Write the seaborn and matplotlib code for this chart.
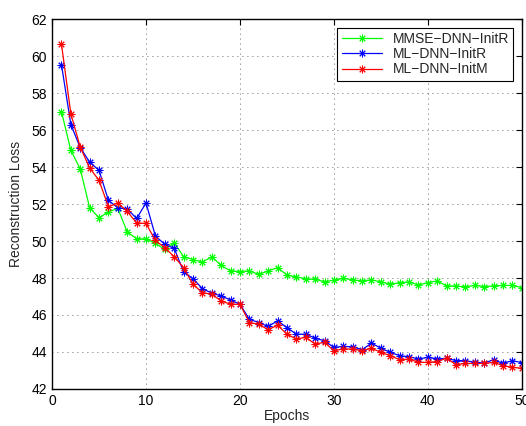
import numpy as np
import pandas as pd
import matplotlib
matplotlib.use("Agg")
import matplotlib.pyplot as plt
import seaborn as sns

sns.set_style("white")
plt.rcParams["font.family"] = ["Liberation Sans", "DejaVu Sans"]

# ---------------------------------------------------------------
# Data
# ---------------------------------------------------------------
epochs = list(range(1, 51))

mmse_initr = [57.0, 54.9, 53.9, 51.8, 51.26, 51.58, 51.76, 50.5, 50.12, 50.12,
              49.87, 49.55, 49.91, 49.15, 49.0, 48.86, 49.15, 48.68, 48.38, 48.35,
              48.38, 48.2, 48.38, 48.56, 48.16, 48.05, 47.96, 47.93, 47.8, 47.88,
              47.98, 47.9, 47.84, 47.9, 47.79, 47.66, 47.75, 47.79, 47.62, 47.75,
              47.84, 47.57, 47.57, 47.52, 47.6, 47.54, 47.57, 47.6, 47.6, 47.48]

ml_initr = [59.54, 56.3, 55.05, 54.27, 53.82, 52.2, 51.8, 51.74, 51.22, 52.06,
            50.27, 49.82, 49.6, 48.34, 47.96, 47.43, 47.18, 47.03, 46.81, 46.58,
            45.77, 45.59, 45.38, 45.68, 45.32, 44.96, 44.96, 44.75, 44.6, 44.25,
            44.3, 44.28, 44.12, 44.48, 44.2, 43.98, 43.8, 43.74, 43.62, 43.71,
            43.62, 43.66, 43.53, 43.53, 43.44, 43.4, 43.58, 43.38, 43.53, 43.42]

ml_initm = [60.65, 56.88, 55.08, 53.95, 53.28, 51.85, 52.06, 51.6, 50.98, 50.95,
            50.03, 49.64, 49.15, 48.56, 47.66, 47.21, 47.12, 46.76, 46.58, 46.58,
            45.59, 45.5, 45.2, 45.45, 44.96, 44.7, 44.79, 44.43, 44.52, 44.07,
            44.16, 44.16, 44.07, 44.2, 43.98, 43.8, 43.58, 43.62, 43.44, 43.44,
            43.48, 43.66, 43.31, 43.38, 43.38, 43.38, 43.44, 43.26, 43.17, 43.12]

series_names = ["MMSE\u2212DNN\u2212InitR", "ML\u2212DNN\u2212InitR", "ML\u2212DNN\u2212InitM"]
series_values = [mmse_initr, ml_initr, ml_initm]
series_colors = ["#00ff00", "#0000ff", "#ff0000"]

x_ticks = [0, 10, 20, 30, 40, 50]
y_ticks = [42, 44, 46, 48, 50, 52, 54, 56, 58, 60, 62]

# ---------------------------------------------------------------
# Plot
# ---------------------------------------------------------------
fig = plt.figure(figsize=(5.26, 4.26), dpi=100)
ax = fig.add_axes([0.099, 0.087, 0.893, 0.868])

asterisk = (8, 2, 0)
for name, vals, col in zip(series_names, series_values, series_colors):
    sns.lineplot(x=epochs, y=vals, ax=ax, color=col, linewidth=0.9,
                 marker=asterisk, markersize=5.5, markeredgewidth=0.7,
                 markeredgecolor=col, label=name)

ax.set_xlim(0, 50)
ax.set_ylim(42, 62)
ax.set_xticks(x_ticks)
ax.set_yticks(y_ticks)
ax.tick_params(direction="in", top=True, right=True, length=4, width=0.8,
               labelsize=10, colors="black")
ax.grid(True, linestyle=(0, (1, 5)), color="#333333", linewidth=0.6)
for sp in ax.spines.values():
    sp.set_visible(True)
    sp.set_color("black")
    sp.set_linewidth(1.0)

ax.set_xlabel("Epochs", fontsize=10, labelpad=1)
ax.set_ylabel("Reconstruction Loss", fontsize=10, labelpad=6)

leg = ax.legend(loc="upper right", fontsize=10, frameon=True, fancybox=False,
                edgecolor="black", framealpha=1, handlelength=2.9,
                borderpad=0.3, labelspacing=0.1, borderaxespad=0.6,
                markerscale=1.0, numpoints=1)
leg.get_frame().set_linewidth(0.8)

fig.savefig("out.png", dpi=100)
